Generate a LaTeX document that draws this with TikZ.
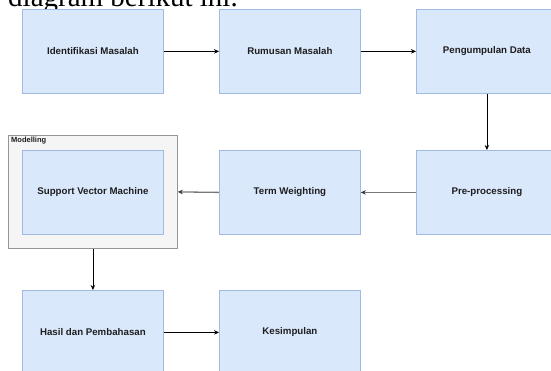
\documentclass[tikz,border=0pt]{standalone}
\usepackage{fontspec}
\setmainfont{Liberation Sans}
\newfontfamily\serifpart{Liberation Serif}
\usetikzlibrary{arrows.meta}
\definecolor{boxfill}{RGB}{218,232,252}
\definecolor{boxline}{RGB}{160,186,226}
\definecolor{contfill}{RGB}{245,245,245}
\definecolor{contline}{RGB}{150,150,150}
\definecolor{txt}{RGB}{30,30,30}
\definecolor{gline}{RGB}{120,120,120}
\begin{document}
\begin{tikzpicture}[x=1pt,y=-1pt,
  stepbox/.style={draw=boxline,fill=boxfill,line width=0.8pt,minimum width=141pt,minimum height=84pt,inner sep=0pt,anchor=north west,font=\fontsize{9.7}{11}\selectfont\bfseries,text=txt},
  conn/.style={-{Stealth[length=5pt,width=4.5pt]},line width=0.7pt,black},
  gconn/.style={-{Stealth[length=5pt,width=4.5pt,color=black!80]},line width=1.3pt,gline}]
\useasboundingbox (0,0) rectangle (551,370);
\clip (0,0) rectangle (551,370);
\node[anchor=base west,inner sep=0pt,font=\serifpart\fontsize{29}{30}\selectfont] (top) at (8,6) {diagram berikut ini.};
\node[draw=contline,fill=contfill,line width=0.8pt,minimum width=169pt,minimum height=113pt,inner sep=0pt,anchor=north west] (cont) at (8,135) {};
\node[anchor=north west,inner sep=0pt,font=\fontsize{7.5}{8}\selectfont\bfseries,text=txt] (contlab) at (11,137) {Modelling};
\node[stepbox] (b1) at (22,9) {Identifikasi Masalah};
\node[stepbox] (b2) at (219,9) {Rumusan Masalah};
\node[stepbox] (b3) at (416,9) {Pengumpulan Data};
\node[stepbox] (b4) at (22,150) {Support Vector Machine};
\node[stepbox] (b5) at (219,150) {Term Weighting};
\node[stepbox] (b6) at (416,150) {Pre-processing};
\node[stepbox] (b7) at (22,290) {Hasil dan Pembahasan};
\node[stepbox] (b8) at (219,290) {Kesimpulan};
\draw[conn] (b1.east) -- (b2.west);
\draw[conn] (b2.east) -- (b3.west);
\draw[conn] (b3.south) -- (b6.north);
\draw[gconn] (b6.west) -- (b5.east);
\draw[gconn] (b5.west) -- (cont.east);
\draw[conn] (cont.south -| b7.north) -- (b7.north);
\draw[conn] (b7.east) -- (b8.west);
\end{tikzpicture}
\end{document}
